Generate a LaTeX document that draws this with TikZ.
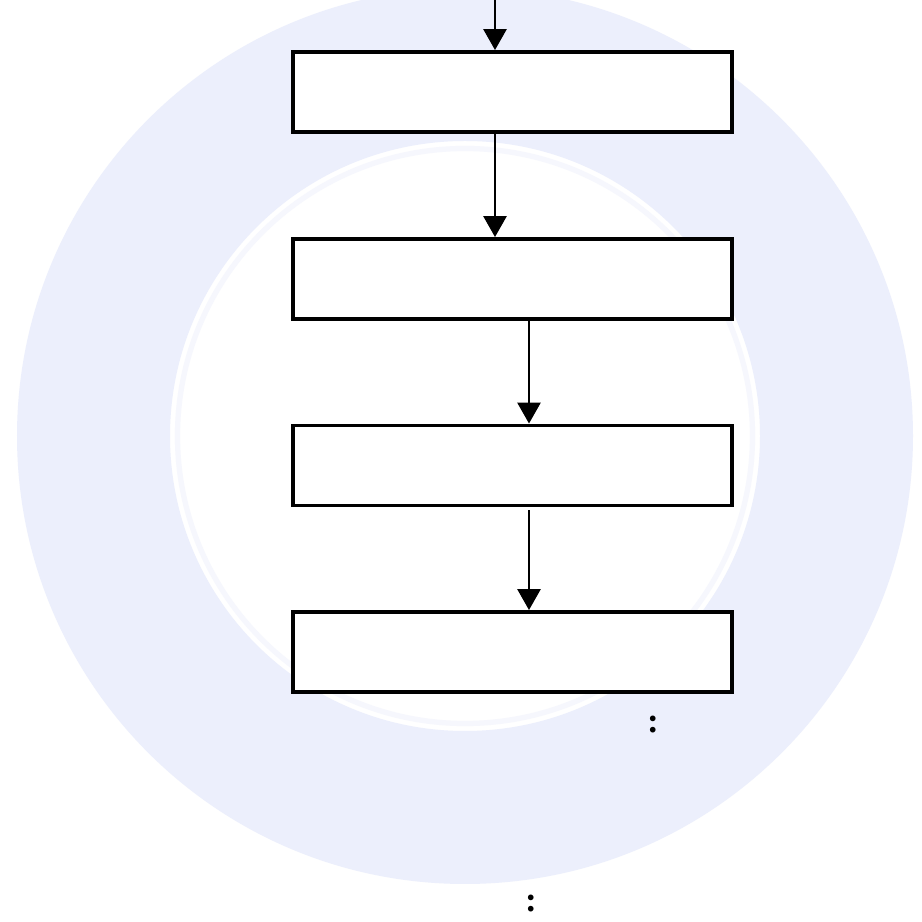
\documentclass[tikz,border=0pt]{standalone}
\usepackage{tikz}
\usepackage{fontspec}
\setmainfont{Liberation Serif}
\usetikzlibrary{arrows.meta}
\definecolor{wmblue}{RGB}{236,239,252}
\definecolor{wmlight}{RGB}{246,247,253}

\begin{document}
\begin{tikzpicture}[every node/.style={draw=black, line width=2.2pt, rectangle,
    minimum width=8.78cm, minimum height=1.6cm, fill=white},
  flow/.style={line width=1.6pt, -{Triangle[width=0.46cm,length=0.42cm]}}]
\useasboundingbox (0,0) rectangle (18.44,18.44);
\fill[white] (0,0) rectangle (18.44,18.44);
% faded logo behind the chart
\fill[wmblue, even odd rule] (9.3,9.72) circle (8.96) circle (5.9);
\draw[wmlight, line width=3pt] (9.3,9.72) circle (5.75);

\node (b1) at (10.25,16.6) {};
\node (b2) at (10.25,12.86) {};
\node (b3) at (10.25,9.13) {};
\node (b4) at (10.25,5.4) {};

\coordinate (in) at (9.9,18.44);
\coordinate (m) at (10.58,0);

\draw[flow] (in) to (b1.north -| in);
\draw[flow] (b1.south -| in) to (b2.north -| in);
\draw[flow] (b2.south -| m) to (b3.north -| m);
\draw[flow] ([yshift=-0.06cm]b3.south -| m) to (b4.north -| m);

\node[draw=none, fill=none, minimum width=0pt, minimum height=0pt, inner sep=0pt,
  font=\fontsize{20}{24}\selectfont\bfseries] (c1) at (13.06,3.94) {:};
\node[draw=none, fill=none, minimum width=0pt, minimum height=0pt, inner sep=0pt,
  font=\fontsize{20}{24}\selectfont\bfseries] (c2) at (10.62,0.36) {:};
\end{tikzpicture}
\end{document}
